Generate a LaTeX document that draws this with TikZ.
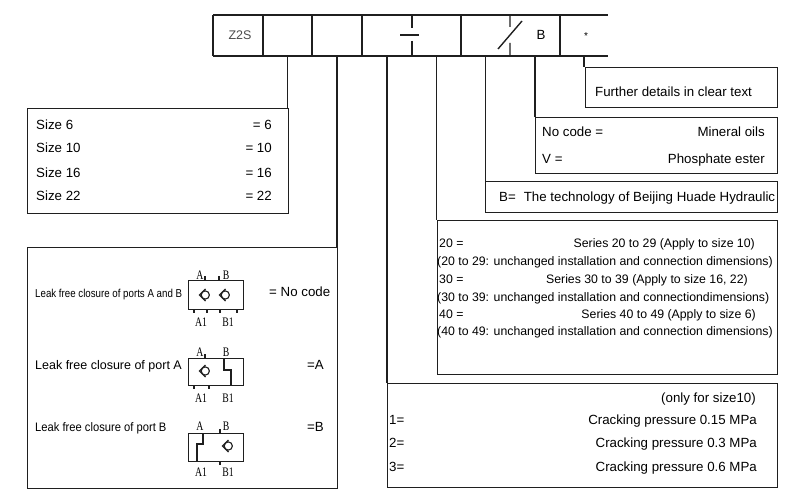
\documentclass[tikz,border=0pt]{standalone}
\usepackage{fontspec}
\setmainfont{Liberation Sans}
\newfontfamily\serifp{Liberation Serif}
\definecolor{lc}{gray}{0.12}
\newcommand\chkv[2]{%
  \draw[sym] (#1+0.5,#2-6) -- (#1-5.5,#2) -- (#1+0.5,#2+6);
  \draw[sym] (#1+0.3,#2) circle[radius=4.1];}
\newcommand\pl[1]{\scalebox{0.75}[1]{#1}}
\begin{document}
\begin{tikzpicture}[x=1pt,y=-1pt,
  ln/.style={draw=lc, line width=1.4pt},
  sym/.style={draw=lc, line width=1.1pt},
  box/.style={draw=lc, line width=1.4pt, inner sep=0pt, anchor=north west},
  cell/.style={inner sep=0pt, minimum height=41pt},
  tx/.style={inner sep=0pt, text=black, font=\fontsize{13.3pt}{16pt}\selectfont, text height=9.6pt, text depth=0pt},
  txs/.style={inner sep=0pt, text=black, font=\fontsize{12.3pt}{15pt}\selectfont, text height=8.8pt, text depth=0pt},
  port/.style={inner sep=0pt, text=black, font=\serifp\fontsize{13pt}{15pt}\selectfont, text height=8.6pt, text depth=0pt},
  conn/.style={draw=lc, line width=1.4pt}]
\useasboundingbox[fill=white] (0,0) rectangle (800,500);

% ---- code bar ----
\node[cell, minimum width=50pt] (c1) at (238,35.5) {};
\node[cell, minimum width=49pt] (c2) at (287.5,35.5) {};
\node[cell, minimum width=50pt] (c3) at (337,35.5) {};
\node[cell, minimum width=50pt] (c4) at (387,35.5) {};
\node[cell, minimum width=49pt] (c5) at (436.5,35.5) {};
\node[cell, minimum width=49pt] (c6) at (485.5,35.5) {};
\node[cell, minimum width=50pt] (c7) at (535,35.5) {};
\node[cell, minimum width=48pt] (c8) at (584,35.5) {};
\draw[ln] (213,15) -- (608,15) (213,56) -- (608,56);
\foreach \xx in {213,263,312,362,461,560} \draw[ln] (\xx,15) -- (\xx,56);
\draw[ln] (412,15) -- (412,28) (412,41) -- (412,56) (400,35) -- (419,35);
\draw[ln] (510,15) -- (510,27) (510,43) -- (510,56) (498,49) -- (522,21);
\node[tx, text=black!70, font=\fontsize{12.5pt}{15pt}\selectfont, anchor=center] (z2s) at (240,35) {Z2S};
\node[tx, anchor=center] (bcode) at (541,35) {B};
\node[inner sep=0pt, font=\fontsize{10pt}{12pt}\selectfont, anchor=center] (star) at (586,36) {*};

% ---- boxes ----
\node[box, minimum width=261pt, minimum height=105pt] (size) at (27,108) {};
\node[box, minimum width=310pt, minimum height=241pt] (leak) at (27,247) {};
\node[box, minimum width=390pt, minimum height=104pt] (crack) at (387,383) {};
\node[box, minimum width=340pt, minimum height=154pt] (series) at (437,220) {};
\node[box, minimum width=292pt, minimum height=31pt] (tech) at (485,181) {};
\node[box, minimum width=242pt, minimum height=56pt] (oil) at (535,117) {};
\node[box, minimum width=192pt, minimum height=40pt] (further) at (585,67) {};

% ---- connectors ----
\draw[conn] (c2.south) -- (c2.south |- size.north);
\draw[conn] (c3.south) -- (c3.south |- leak.north);
\draw[conn] (c4.south) -- (c4.south |- crack.north);
\draw[conn] (c5.south) -- (c5.south |- series.north);
\draw[conn] (c6.south) -- (c6.south |- tech.north);
\draw[conn] (c7.south) -- (c7.south |- oil.north);
\draw[conn] (c8.south) -- (c8.south |- further.north);

% ---- size box ----
\node[tx, anchor=west] (s6) at (36,125) {Size 6};
\node[tx, anchor=east] (s6v) at (272,125) {= 6};
\node[tx, anchor=west] (s10) at (36,148) {Size 10};
\node[tx, anchor=east] (s10v) at (272,148) {= 10};
\node[tx, anchor=west] (s16) at (36,173) {Size 16};
\node[tx, anchor=east] (s16v) at (272,173) {= 16};
\node[tx, anchor=west] (s22) at (36,196) {Size 22};
\node[tx, anchor=east] (s22v) at (272,196) {= 22};

% ---- further / oil / tech ----
\node[tx, anchor=west] (fd) at (595,92) {Further details in clear text};
\node[tx, anchor=west] (nc) at (542,132) {No code =};
\node[tx, anchor=east] (mo) at (765,132) {Mineral oils};
\node[tx, anchor=west] (vv) at (542,159) {V =};
\node[tx, anchor=east] (pe) at (765,159) {Phosphate ester};
\node[tx, anchor=west] (bt) at (499,197) {B=\hspace{0.6em}The technology of Beijing Huade Hydraulic};

% ---- series ----
\node[txs, anchor=west] (r20) at (439,243) {20 =};
\node[txs, anchor=east] (r20s) at (755,243) {Series 20 to 29 (Apply to size 10)};
\node[txs, anchor=west] (r20d) at (437,261) {(20 to 29: unchanged installation and connection dimensions)};
\node[txs, anchor=west] (r30) at (439,279) {30 =};
\node[txs, anchor=east] (r30s) at (748,279) {Series 30 to 39 (Apply to size 16, 22)};
\node[txs, anchor=west] (r30d) at (437,297) {(30 to 39: unchanged installation and connectiondimensions)};
\node[txs, anchor=west] (r40) at (439,314) {40 =};
\node[txs, anchor=east] (r40s) at (756,314) {Series 40 to 49 (Apply to size 6)};
\node[txs, anchor=west] (r40d) at (437,331) {(40 to 49: unchanged installation and connection dimensions)};

% ---- cracking ----
\node[tx, anchor=east] (only) at (756,398) {(only for size10)};
\node[tx, anchor=west] (k1) at (389,420) {1=};
\node[tx, anchor=east] (k1t) at (757,420) {Cracking pressure 0.15 MPa};
\node[tx, anchor=west] (k2) at (389,443) {2=};
\node[tx, anchor=east] (k2t) at (757,443) {Cracking pressure 0.3 MPa};
\node[tx, anchor=west] (k3) at (389,467) {3=};
\node[tx, anchor=east] (k3t) at (757,467) {Cracking pressure 0.6 MPa};

% ---- leak box ----
\node[inner sep=0pt, text=black, font=\fontsize{11.5pt}{13pt}\selectfont, text height=8.3pt, text depth=0pt, anchor=west] (l1) at (35,293) {\scalebox{0.845}[1]{Leak free closure of ports A and B}};
\node[tx, anchor=west] (l1v) at (269,292) {= No code};
\node[inner sep=0pt, text=black, font=\fontsize{12.5pt}{15pt}\selectfont, text height=9pt, text depth=0pt, anchor=west] (l2) at (35,365) {Leak free closure of port A};
\node[tx, anchor=west] (l2v) at (307,365) {=A};
\node[inner sep=0pt, text=black, font=\fontsize{12.3pt}{14pt}\selectfont, text height=8.8pt, text depth=0pt, anchor=west] (l3) at (35,427) {\scalebox{0.91}[1]{Leak free closure of port B}};
\node[tx, anchor=west] (l3v) at (307,427) {=B};

% symbol 1
\node[box, line width=1.1pt, minimum width=55pt, minimum height=29pt] (sym1) at (188,280) {};
\chkv{205}{295}
\chkv{225}{295}
\draw[sym] (205,276) -- (205,280) (219,276) -- (219,280);
\draw[sym] (194,309) -- (194,313) (207,309) -- (207,313) (220,309) -- (220,313) (237,309) -- (237,313);
\node[port, anchor=center] (s1a) at (200,275.5) {\pl{A}};
\node[port, anchor=center] (s1b) at (226,275.5) {\pl{B}};
\node[port, anchor=center] (s1a1) at (201,322) {\pl{A1}};
\node[port, anchor=center] (s1b1) at (228,322) {\pl{B1}};

% symbol 2
\node[box, line width=1.1pt, minimum width=55pt, minimum height=27pt] (sym2) at (188,358) {};
\chkv{205}{371}
\draw[sym] (205,354) -- (205,358);
\draw[sym] (224,358) -- (224,370) -- (231,370) -- (231,385);
\draw[sym] (194,385) -- (194,389) (209,385) -- (209,389);
\node[port, anchor=center] (s2a) at (200,352.5) {\pl{A}};
\node[port, anchor=center] (s2b) at (226,352.5) {\pl{B}};
\node[port, anchor=center] (s2a1) at (201,398) {\pl{A1}};
\node[port, anchor=center] (s2b1) at (228,398) {\pl{B1}};

% symbol 3
\node[box, line width=1.1pt, minimum width=55pt, minimum height=28pt] (sym3) at (188,433) {};
\chkv{228}{446}
\draw[sym] (203,433) -- (203,444) -- (197,444) -- (197,461);
\draw[sym] (220,429) -- (220,433) (220,461) -- (220,465);
\node[port, anchor=center] (s3a) at (200,426) {\pl{A}};
\node[port, anchor=center] (s3b) at (226,426) {\pl{B}};
\node[port, anchor=center] (s3a1) at (201,472) {\pl{A1}};
\node[port, anchor=center] (s3b1) at (228,472) {\pl{B1}};
\end{tikzpicture}
\end{document}
